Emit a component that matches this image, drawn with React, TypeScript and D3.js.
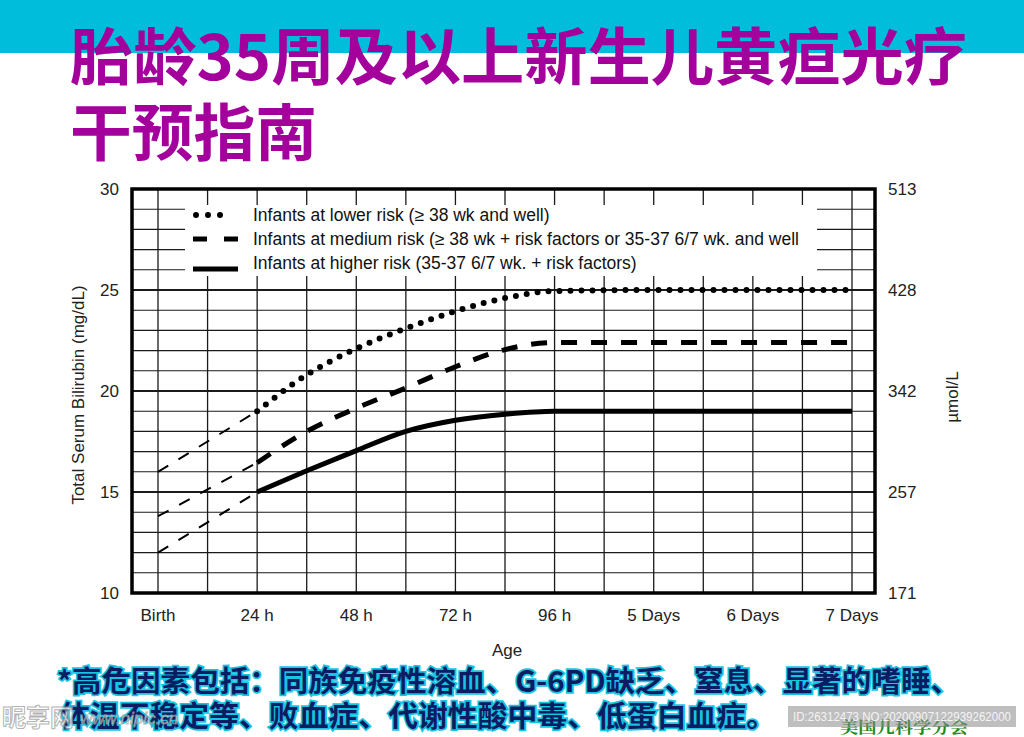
import { useEffect, useRef } from 'react';
import * as d3 from 'd3';

const W = 1024;
const H = 737;

const titleLines = ['胎龄35周及以上新生儿黄疸光疗', '干预指南'];
const noteLines = [
  '*高危因素包括：同族免疫性溶血、G-6PD缺乏、窒息、显著的嗜睡、',
  '体温不稳定等、败血症、代谢性酸中毒、低蛋白血症。',
];

// hours after birth, mg/dL
const ageHours = [24, 36, 48, 60, 72, 84, 96, 120, 144, 168];
const lowerRisk = [19, 20.8, 22.1, 23.1, 23.95, 24.6, 24.95, 25, 25, 25];
const mediumRisk = [16.45, 18.0, 19.15, 20.15, 21.2, 22.05, 22.4, 22.4, 22.4, 22.4];
const higherRisk = [15, 16.05, 17.05, 18.0, 18.55, 18.85, 19.0, 19.0, 19.0, 19.0];

// thin dashed lead-in from birth to 24 h
const birthHours = [0, 24];
const lowerBirth = [16, 19];
const mediumBirth = [13.8, 16.45];
const higherBirth = [12, 15];

const xTickHours = [0, 24, 48, 72, 96, 120, 144, 168];
const xTickLabels = ['Birth', '24 h', '48 h', '72 h', '96 h', '5 Days', '6 Days', '7 Days'];
const yTicks = [10, 15, 20, 25, 30];
const umolLabels = ['171', '257', '342', '428', '513'];

const legendLabels = [
  'Infants at lower risk (≥ 38 wk and well)',
  'Infants at medium risk (≥ 38 wk + risk factors or 35-37 6/7 wk. and well',
  'Infants at higher risk (35-37 6/7 wk. + risk factors)',
];

const sans = '"Liberation Sans", Arial, sans-serif';
const cjk = '"Noto Sans CJK SC", "Noto Sans", sans-serif';

export default function App() {
  const svgRef = useRef<SVGSVGElement>(null);

  useEffect(() => {
    if (!svgRef.current) return;
    const svg = d3.select(svgRef.current);
    svg.selectAll('*').remove();

    svg.append('rect').attr('width', W).attr('height', H).attr('fill', '#fff');
    svg.append('rect').attr('width', W).attr('height', 53).attr('fill', '#00bddc');

    // title
    titleLines.forEach((t, i) => {
      svg.append('text')
        .attr('x', 70)
        .attr('y', 80 + i * 76)
        .attr('textLength', i === 0 ? 897 : 247)
        .attr('lengthAdjust', 'spacingAndGlyphs')
        .style('font-family', cjk)
        .style('font-weight', 700)
        .style('font-size', '62px')
        .attr('fill', '#a3009c')
        .text(t);
    });

    const left = 132, right = 875, top = 189, bottom = 593;
    const x = d3.scaleLinear().domain([0, 168]).range([158, 852]);
    const y = d3.scaleLinear().domain([10, 30]).range([bottom, top]);
    const box = { x0: 185, x1: 817, y0: 205, y1: 276 };

    const grid = svg.append('g').attr('stroke', '#1a1a1a');

    d3.range(11, 30).forEach(v => {
      const yp = y(v);
      const sw = v % 5 === 0 ? 2.2 : 1.1;
      const segs = yp < box.y1 ? [[left, box.x0], [box.x1, right]] : [[left, right]];
      segs.forEach(([a, b]) => {
        grid.append('line').attr('x1', a).attr('x2', b).attr('y1', yp).attr('y2', yp).attr('stroke-width', sw);
      });
    });

    d3.range(0, 169, 12).forEach(h => {
      const xp = x(h);
      const segs = xp > box.x0 && xp < box.x1 ? [[top, box.y0], [box.y1, bottom]] : [[top, bottom]];
      segs.forEach(([a, b]) => {
        grid.append('line').attr('x1', xp).attr('x2', xp).attr('y1', a).attr('y2', b).attr('stroke-width', 1.3);
      });
    });

    svg.append('rect')
      .attr('x', left).attr('y', top)
      .attr('width', right - left).attr('height', bottom - top)
      .attr('fill', 'none').attr('stroke', '#000').attr('stroke-width', 3.5);

    const line = d3.line<[number, number]>()
      .x(d => x(d[0]))
      .y(d => y(d[1]))
      .curve(d3.curveMonotoneX);

    const pair = (hs: number[], vs: number[]) => hs.map((h, i) => [h, vs[i]] as [number, number]);

    [lowerBirth, mediumBirth, higherBirth].forEach(vs => {
      svg.append('path')
        .attr('d', line(pair(birthHours, vs)))
        .attr('fill', 'none').attr('stroke', '#000')
        .attr('stroke-width', 2).attr('stroke-dasharray', '12 12');
    });

    const styles = [
      { dash: '0 11', cap: 'round', w: 6 },
      { dash: '16 14', cap: 'butt', w: 5 },
      { dash: null, cap: 'butt', w: 5 },
    ];

    [lowerRisk, mediumRisk, higherRisk].forEach((vs, i) => {
      svg.append('path')
        .attr('d', line(pair(ageHours, vs)))
        .attr('fill', 'none').attr('stroke', '#000')
        .attr('stroke-width', styles[i].w)
        .attr('stroke-linecap', styles[i].cap)
        .attr('stroke-dasharray', styles[i].dash);
    });

    // legend
    legendLabels.forEach((t, i) => {
      const ly = 215 + i * 24;
      const sy = i === 2 ? ly + 6 : ly;
      svg.append('line')
        .attr('x1', i === 0 ? 196 : 193).attr('x2', i === 0 ? 232 : 238)
        .attr('y1', sy).attr('y2', sy)
        .attr('stroke', '#000')
        .attr('stroke-width', styles[i].w)
        .attr('stroke-linecap', styles[i].cap)
        .attr('stroke-dasharray', i === 0 ? '0 12' : i === 1 ? '14 17' : null);
      svg.append('text')
        .attr('x', 253).attr('y', ly + 6)
        .style('font-family', sans).style('font-size', '17.5px')
        .attr('fill', '#111')
        .text(t);
    });

    // axes labels
    yTicks.forEach((v, i) => {
      svg.append('text')
        .attr('x', 119).attr('y', y(v) + 6)
        .attr('text-anchor', 'end')
        .style('font-family', sans).style('font-size', '17px').attr('fill', '#222')
        .text(v);
      svg.append('text')
        .attr('x', 888).attr('y', y(v) + 6)
        .style('font-family', sans).style('font-size', '17px').attr('fill', '#222')
        .text(umolLabels[i]);
    });

    xTickHours.forEach((h, i) => {
      svg.append('text')
        .attr('x', x(h)).attr('y', 621)
        .attr('text-anchor', 'middle')
        .style('font-family', sans).style('font-size', '17px').attr('fill', '#222')
        .text(xTickLabels[i]);
    });

    svg.append('text')
      .attr('x', 507).attr('y', 656)
      .attr('text-anchor', 'middle')
      .style('font-family', sans).style('font-size', '17px').attr('fill', '#222')
      .text('Age');

    svg.append('text')
      .attr('transform', 'translate(84,395) rotate(-90)')
      .attr('text-anchor', 'middle')
      .style('font-family', sans).style('font-size', '17px').attr('fill', '#222')
      .text('Total Serum Bilirubin (mg/dL)');

    svg.append('text')
      .attr('transform', 'translate(958,397) rotate(-90)')
      .attr('text-anchor', 'middle')
      .style('font-family', sans).style('font-size', '17px').attr('fill', '#222')
      .text('µmol/L');

    // footnote
    noteLines.forEach((t, i) => {
      svg.append('text')
        .attr('x', i === 0 ? 57 : 60).attr('y', 692 + i * 35)
        .attr('textLength', i === 0 ? 903 : 716)
        .attr('lengthAdjust', 'spacingAndGlyphs')
        .style('font-family', cjk).style('font-weight', 700).style('font-size', '29px')
        .attr('fill', '#0b1d62')
        .attr('stroke', '#18c4e4').attr('stroke-width', 3.5)
        .attr('paint-order', 'stroke')
        .text(t);
    });

    svg.append('text')
      .attr('x', 840).attr('y', 733)
      .attr('textLength', 128).attr('lengthAdjust', 'spacingAndGlyphs')
      .style('font-family', '"Noto Serif CJK SC", ' + cjk).style('font-size', '16px').style('font-weight', 700)
      .attr('fill', '#1e8a22')
      .text('美国儿科学分会');

    // image-site watermark
    svg.append('rect')
      .attr('x', 788).attr('y', 706).attr('width', 228).attr('height', 21)
      .attr('fill', '#8a8a8a').attr('opacity', 0.55);
    svg.append('text')
      .attr('x', 793).attr('y', 721)
      .attr('textLength', 218).attr('lengthAdjust', 'spacingAndGlyphs')
      .style('font-family', sans).style('font-size', '12px')
      .attr('fill', '#f4f4f4')
      .text('ID:26312473 NO:20200907122939262000');

    const wm = svg.append('g').attr('opacity', 0.75);
    wm.append('text')
      .attr('x', 2).attr('y', 726)
      .style('font-family', cjk).style('font-weight', 700).style('font-size', '24px')
      .attr('fill', '#fff').attr('stroke', '#9a9a9a').attr('stroke-width', 1)
      .text('昵享网');
    wm.append('text')
      .attr('x', 80).attr('y', 724)
      .style('font-family', sans).style('font-style', 'italic').style('font-size', '17px')
      .attr('fill', '#fff').attr('stroke', '#9a9a9a').attr('stroke-width', 0.8)
      .text('www.nipic.cn');
  }, []);

  return (
    <svg
      ref={svgRef}
      width={W}
      height={H}
      style={{ position: 'absolute', left: 0, top: 0, display: 'block' }}
    />
  );
}
